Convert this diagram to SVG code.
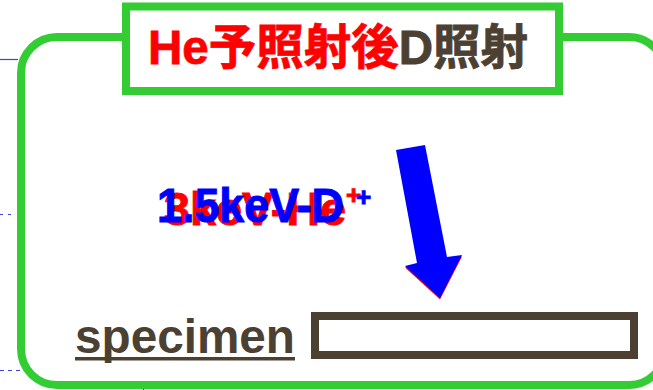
<svg xmlns="http://www.w3.org/2000/svg" width="653" height="390" viewBox="0 0 653 390">
<style>
.frame{fill:none;stroke:#33CC33;stroke-width:8}
.t{font-family:"Liberation Sans","Noto Sans CJK JP",sans-serif;font-weight:bold}
.brown{fill:#4B4031}
.mark{stroke:#4040DD;stroke-width:1.2;fill:none}
.red{fill:#FF0000;stroke:#FF0000;stroke-width:1}
.blue{fill:#0000FF;stroke:#0000FF;stroke-width:1}
</style>
<g id="edge-marks">
<line class="mark" x1="0" y1="59.5" x2="18" y2="59.5"/>
<line class="mark" x1="0" y1="214.5" x2="12" y2="214.5" stroke-dasharray="3 5"/>
<line class="mark" x1="0" y1="370.5" x2="22" y2="370.5" stroke-dasharray="4 4"/>
<line x1="143.5" y1="387" x2="143.5" y2="390" stroke="#333355" stroke-width="1"/>
</g>
<g id="panel">
<rect class="frame" x="21" y="37" width="644" height="348" rx="36" ry="36"/>
</g>
<g id="title">
<rect x="126" y="6.5" width="433" height="84.5" fill="#FFFFFF" stroke="#33CC33" stroke-width="8"/>
<text class="t" x="148" y="64" font-size="48" textLength="380" lengthAdjust="spacingAndGlyphs"><tspan fill="#FF0000" stroke="#FF0000" stroke-width="0.8">He予照射後</tspan><tspan class="brown" stroke="#4B4031" stroke-width="0.8">D照射</tspan></text>
</g>
<g id="ion-label">
<text class="t red" x="164" y="225" font-size="46" textLength="182" lengthAdjust="spacingAndGlyphs">3keV-He</text>
<text class="t red" x="346" y="204" font-size="26">+</text>
<text class="t blue" x="157" y="222" font-size="48" textLength="187" lengthAdjust="spacingAndGlyphs">1.5keV-D</text>
<text class="t blue" x="356" y="206" font-size="26">+</text>
</g>
<g id="connectors">
<polygon points="405,267.5 417,264.5 447,258.5 462,256.5 440,299.5" fill="#FF0000"/>
<polygon points="396,150 425,145 447,257 462,255 440,298 405,266 417,263" fill="#0000FF"/>
</g>
<g id="specimen">
<text class="t brown" x="75" y="353" font-size="48" textLength="220" lengthAdjust="spacingAndGlyphs">specimen</text>
<rect x="75" y="357" width="220" height="3.5" fill="#4B4031"/>
<rect x="315" y="316" width="319" height="39" fill="#FFFFFF" stroke="#4B4031" stroke-width="8"/>
</g>
</svg>
